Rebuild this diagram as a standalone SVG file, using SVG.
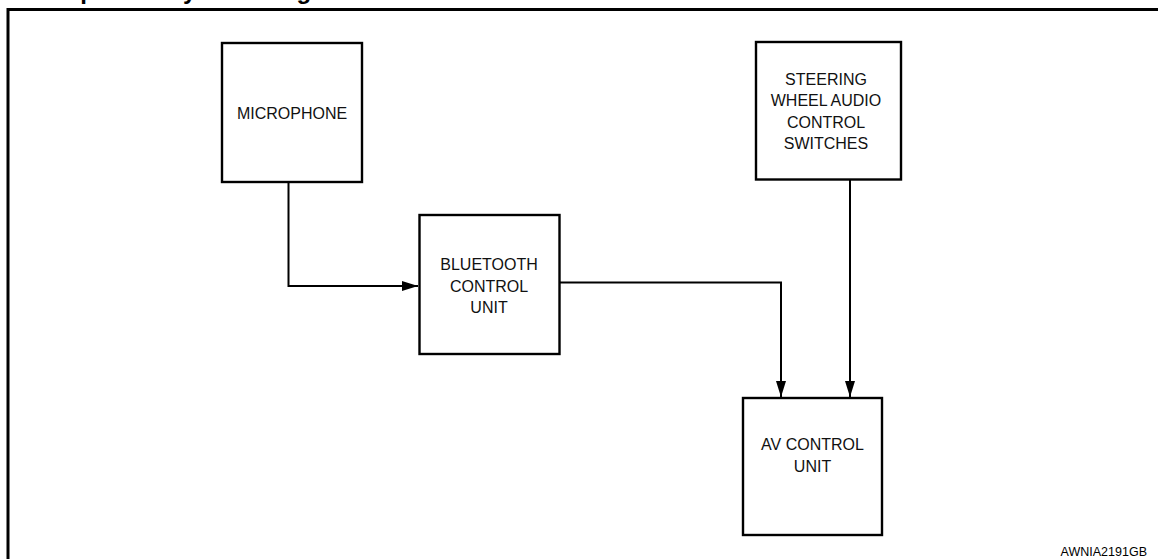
<svg xmlns="http://www.w3.org/2000/svg" width="1158" height="559" viewBox="0 0 1158 559">
<style>
.box{fill:#fff;stroke:#000;stroke-width:2.4}
.lbl{font-family:"Liberation Sans",Arial,sans-serif;font-size:16px;fill:#111;text-anchor:middle}
.conn{fill:none;stroke:#000;stroke-width:2}
.frame{fill:none;stroke:#000;stroke-width:3}
</style>
<defs>
<marker id="arr" markerUnits="userSpaceOnUse" markerWidth="17" markerHeight="10" refX="16" refY="5" orient="auto">
<path d="M0,0 L16,5 L0,10 z" fill="#000"/>
</marker>
</defs>
<rect x="0" y="0" width="1158" height="559" fill="#fff"/>
<text x="27" y="-1.5" font-family="Liberation Sans, Arial, sans-serif" font-size="24" font-weight="bold" fill="#000">Component System Diagram</text>
<path class="frame" d="M8,562 V9.5 H1160"/>
<g id="connectors">
<path class="conn" d="M288.5,182.5 V286 H418" marker-end="url(#arr)"/>
<path class="conn" d="M559.5,282.5 H781 V397" marker-end="url(#arr)"/>
<path class="conn" d="M850,179.5 V397" marker-end="url(#arr)"/>
</g>
<g id="microphone">
<rect class="box" x="222" y="43" width="140" height="139"/>
<text class="lbl" x="292" y="118.5">MICROPHONE</text>
</g>
<g id="bluetooth">
<rect class="box" x="419.5" y="215" width="140" height="139"/>
<text class="lbl" x="489" y="269.5">BLUETOOTH</text>
<text class="lbl" x="489" y="291.5">CONTROL</text>
<text class="lbl" x="489" y="313">UNIT</text>
</g>
<g id="steering">
<rect class="box" x="756" y="42" width="145" height="137.5"/>
<text class="lbl" x="826" y="84.5">STEERING</text>
<text class="lbl" x="826" y="106">WHEEL AUDIO</text>
<text class="lbl" x="826" y="127.5">CONTROL</text>
<text class="lbl" x="826" y="149">SWITCHES</text>
</g>
<g id="av">
<rect class="box" x="743" y="398" width="139" height="137"/>
<text class="lbl" x="812.5" y="450">AV CONTROL</text>
<text class="lbl" x="812.5" y="471.5">UNIT</text>
</g>
<text x="1147" y="556" font-family="Liberation Sans, Arial, sans-serif" font-size="12.5" fill="#000" text-anchor="end">AWNIA2191GB</text>
</svg>
